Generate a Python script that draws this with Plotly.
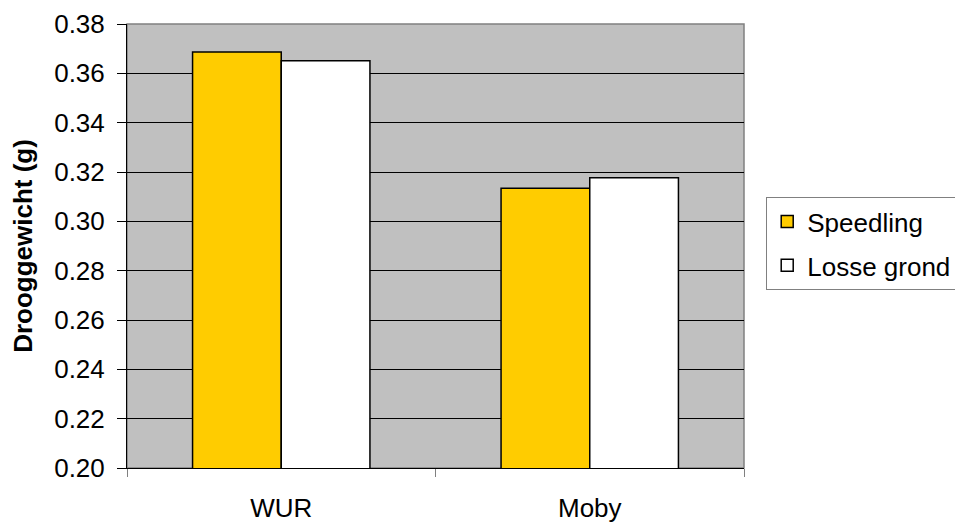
import plotly.graph_objects as go

categories = ["WUR", "Moby"]
speedling = [0.3686, 0.3134]
losse_grond = [0.3651, 0.3177]
y_ticks = [0.20, 0.22, 0.24, 0.26, 0.28, 0.30, 0.32, 0.34, 0.36, 0.38]

FONT = "Liberation Sans, Arial, sans-serif"

fig = go.Figure()
fig.add_trace(go.Bar(name="Speedling", x=categories, y=speedling, legendgroup="a",
                     marker=dict(color="#FFCC00", line=dict(color="black", width=1.5))))
fig.add_trace(go.Bar(name="Losse grond", x=categories, y=losse_grond, legendgroup="b",
                     marker=dict(color="white", line=dict(color="black", width=1.5))))

fig.add_shape(type="rect", xref="paper", yref="paper", x0=0, x1=1, y0=0, y1=1,
              line=dict(color="#808080", width=1.5), layer="below")

fig.update_layout(
    width=955, height=522,
    margin=dict(l=127, r=211, t=24, b=54, autoexpand=False),
    paper_bgcolor="white", plot_bgcolor="#C0C0C0",
    barmode="group", bargap=0.425, bargroupgap=0,
    font=dict(family=FONT, size=26, color="black"),
    showlegend=True,
    legend=dict(x=1.036, xanchor="left", y=0.61, yanchor="top",
                bordercolor="#808080", borderwidth=1, bgcolor="white",
                font=dict(size=26, family=FONT), tracegroupgap=7),
    xaxis=dict(type="category", tickson="boundaries", ticks="outside", ticklen=8,
               tickcolor="#808080", showline=True, linecolor="black", linewidth=1,
               showgrid=False, ticklabelstandoff=17, tickfont=dict(size=26)),
    yaxis=dict(range=[0.20, 0.38], tickvals=y_ticks, tickformat=".2f",
               ticks="outside", ticklen=9, tickcolor="black",
               showline=True, linecolor="black", linewidth=1,
               showgrid=True, gridcolor="black", gridwidth=1,
               ticklabelstandoff=7, zeroline=False, tickfont=dict(size=26),
               title=dict(text="<b>Drooggewicht (g)</b>", font=dict(size=26), standoff=14)),
)

fig.write_html("out.html")
